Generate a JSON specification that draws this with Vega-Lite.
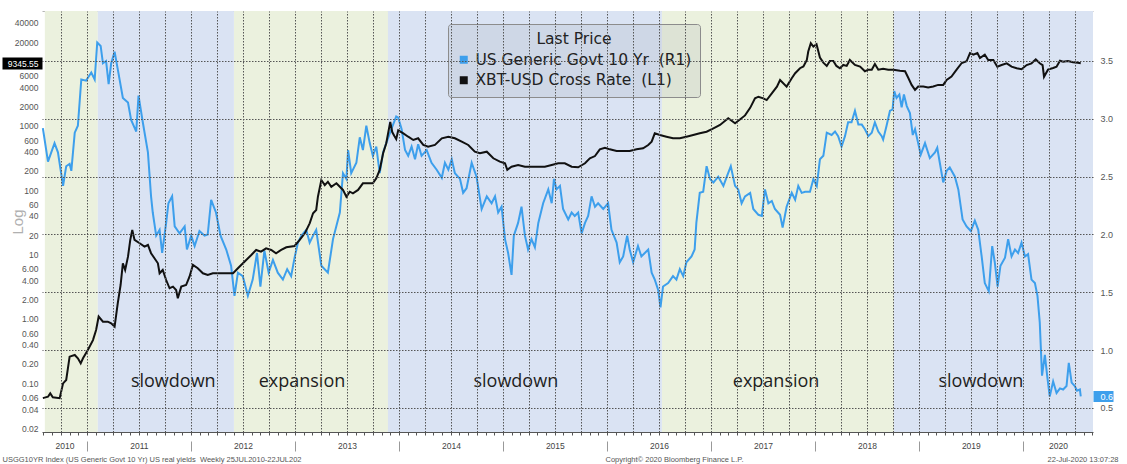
{
  "$schema": "https://vega.github.io/schema/vega-lite/v6.json",
  "width": 1051,
  "height": 421,
  "autosize": {"type": "none"},
  "padding": {"left": 42, "top": 11, "right": 34, "bottom": 32},
  "background": "white",
  "config": {"view": {"stroke": null}, "font": "Liberation Sans"},
  "datasets": {
    "bands": [
      {"start": "2010-08-06", "end": "2011-02-08", "phase": "expansion"},
      {"start": "2011-02-08", "end": "2012-05-31", "phase": "slowdown"},
      {"start": "2012-05-31", "end": "2013-11-23", "phase": "expansion"},
      {"start": "2013-11-23", "end": "2016-07-12", "phase": "slowdown"},
      {"start": "2016-07-12", "end": "2018-10-05", "phase": "expansion"},
      {"start": "2018-10-05", "end": "2020-09-03", "phase": "slowdown"}
    ],
    "notes": [
      {"date": "2011-10-31", "label": "slowdown"},
      {"date": "2013-01-25", "label": "expansion"},
      {"date": "2015-02-15", "label": "slowdown"},
      {"date": "2017-08-17", "label": "expansion"},
      {"date": "2019-08-06", "label": "slowdown"}
    ],
    "ust": [
      {"date":"2010-07-30","v":2.92},{"date":"2010-08-17","v":2.63},{"date":"2010-09-09","v":2.79},{"date":"2010-09-21","v":2.71},{"date":"2010-10-09","v":2.42},{"date":"2010-10-20","v":2.59},{"date":"2010-11-01","v":2.61},{"date":"2010-11-07","v":2.55},{"date":"2010-11-19","v":2.88},{"date":"2010-11-30","v":2.94},{"date":"2010-12-12","v":3.34},{"date":"2010-12-29","v":3.33},
      {"date":"2011-01-16","v":3.40},{"date":"2011-01-28","v":3.34},{"date":"2011-02-06","v":3.66},{"date":"2011-02-18","v":3.63},{"date":"2011-02-26","v":3.48},{"date":"2011-03-09","v":3.50},{"date":"2011-03-18","v":3.30},{"date":"2011-03-27","v":3.48},{"date":"2011-04-08","v":3.58},{"date":"2011-04-19","v":3.43},{"date":"2011-05-07","v":3.18},{"date":"2011-05-25","v":3.14},{"date":"2011-06-05","v":2.99},{"date":"2011-06-23","v":2.89},{"date":"2011-07-01","v":3.20},{"date":"2011-07-16","v":2.97},{"date":"2011-08-03","v":2.71},{"date":"2011-08-14","v":2.33},{"date":"2011-08-20","v":2.19},{"date":"2011-09-01","v":1.99},{"date":"2011-09-13","v":2.04},{"date":"2011-09-22","v":1.84},{"date":"2011-10-06","v":2.10},{"date":"2011-10-14","v":2.27},{"date":"2011-10-27","v":2.33},{"date":"2011-11-05","v":2.07},{"date":"2011-11-22","v":2.01},{"date":"2011-12-10","v":2.07},{"date":"2011-12-18","v":1.87},
      {"date":"2012-01-02","v":1.99},{"date":"2012-01-14","v":1.90},{"date":"2012-01-31","v":2.03},{"date":"2012-02-18","v":1.99},{"date":"2012-02-29","v":2.00},{"date":"2012-03-12","v":2.30},{"date":"2012-03-29","v":2.19},{"date":"2012-04-14","v":1.99},{"date":"2012-05-04","v":1.87},{"date":"2012-05-21","v":1.73},{"date":"2012-06-02","v":1.47},{"date":"2012-06-14","v":1.67},{"date":"2012-07-01","v":1.64},{"date":"2012-07-19","v":1.47},{"date":"2012-08-05","v":1.61},{"date":"2012-08-20","v":1.84},{"date":"2012-09-01","v":1.55},{"date":"2012-09-15","v":1.86},{"date":"2012-09-30","v":1.67},{"date":"2012-10-15","v":1.78},{"date":"2012-11-01","v":1.67},{"date":"2012-11-19","v":1.61},{"date":"2012-12-04","v":1.70},{"date":"2012-12-18","v":1.64},{"date":"2012-12-30","v":1.80},
      {"date":"2013-01-11","v":1.93},{"date":"2013-01-23","v":1.99},{"date":"2013-02-09","v":2.04},{"date":"2013-02-21","v":1.93},{"date":"2013-03-05","v":1.99},{"date":"2013-03-16","v":2.04},{"date":"2013-04-03","v":1.73},{"date":"2013-04-26","v":1.67},{"date":"2013-05-14","v":1.96},{"date":"2013-06-07","v":2.19},{"date":"2013-06-18","v":2.53},{"date":"2013-06-30","v":2.48},{"date":"2013-07-06","v":2.73},{"date":"2013-07-17","v":2.53},{"date":"2013-08-04","v":2.62},{"date":"2013-08-16","v":2.84},{"date":"2013-08-27","v":2.73},{"date":"2013-09-08","v":2.94},{"date":"2013-09-20","v":2.79},{"date":"2013-10-01","v":2.68},{"date":"2013-10-13","v":2.76},{"date":"2013-10-25","v":2.53},{"date":"2013-11-06","v":2.71},{"date":"2013-11-17","v":2.79},{"date":"2013-12-05","v":2.91},{"date":"2013-12-22","v":3.02},{"date":"2013-12-29","v":3.01},
      {"date":"2014-01-10","v":2.91},{"date":"2014-01-22","v":2.73},{"date":"2014-02-02","v":2.68},{"date":"2014-02-14","v":2.76},{"date":"2014-02-26","v":2.65},{"date":"2014-03-09","v":2.78},{"date":"2014-03-21","v":2.68},{"date":"2014-04-08","v":2.73},{"date":"2014-04-25","v":2.62},{"date":"2014-05-13","v":2.56},{"date":"2014-05-31","v":2.49},{"date":"2014-06-11","v":2.62},{"date":"2014-06-23","v":2.56},{"date":"2014-07-05","v":2.65},{"date":"2014-07-16","v":2.53},{"date":"2014-08-03","v":2.48},{"date":"2014-08-14","v":2.36},{"date":"2014-08-26","v":2.40},{"date":"2014-09-13","v":2.62},{"date":"2014-09-30","v":2.50},{"date":"2014-10-18","v":2.22},{"date":"2014-11-05","v":2.33},{"date":"2014-11-22","v":2.27},{"date":"2014-12-04","v":2.33},{"date":"2014-12-15","v":2.19},{"date":"2014-12-27","v":2.24},
      {"date":"2015-01-08","v":1.96},{"date":"2015-01-19","v":1.84},{"date":"2015-01-31","v":1.65},{"date":"2015-02-08","v":1.99},{"date":"2015-02-23","v":2.10},{"date":"2015-03-07","v":2.24},{"date":"2015-03-19","v":1.99},{"date":"2015-03-30","v":1.87},{"date":"2015-04-11","v":1.96},{"date":"2015-04-23","v":1.89},{"date":"2015-05-05","v":2.10},{"date":"2015-05-22","v":2.27},{"date":"2015-06-09","v":2.39},{"date":"2015-06-21","v":2.27},{"date":"2015-06-29","v":2.48},{"date":"2015-07-08","v":2.39},{"date":"2015-07-20","v":2.42},{"date":"2015-07-31","v":2.22},{"date":"2015-08-18","v":2.13},{"date":"2015-08-30","v":2.19},{"date":"2015-09-10","v":2.16},{"date":"2015-09-22","v":2.19},{"date":"2015-10-04","v":2.01},{"date":"2015-10-16","v":2.10},{"date":"2015-10-27","v":2.16},{"date":"2015-11-08","v":2.33},{"date":"2015-11-20","v":2.24},{"date":"2015-12-01","v":2.27},{"date":"2015-12-19","v":2.22},
      {"date":"2016-01-05","v":2.27},{"date":"2016-01-17","v":2.04},{"date":"2016-02-04","v":1.93},{"date":"2016-02-15","v":1.76},{"date":"2016-02-27","v":1.81},{"date":"2016-03-12","v":1.99},{"date":"2016-03-21","v":1.87},{"date":"2016-04-02","v":1.76},{"date":"2016-04-19","v":1.90},{"date":"2016-05-01","v":1.81},{"date":"2016-05-13","v":1.84},{"date":"2016-05-25","v":1.87},{"date":"2016-06-06","v":1.67},{"date":"2016-06-17","v":1.61},{"date":"2016-06-29","v":1.52},{"date":"2016-07-07","v":1.37},{"date":"2016-07-16","v":1.55},{"date":"2016-08-03","v":1.58},{"date":"2016-08-20","v":1.64},{"date":"2016-09-01","v":1.61},{"date":"2016-09-13","v":1.70},{"date":"2016-09-25","v":1.64},{"date":"2016-10-06","v":1.76},{"date":"2016-10-24","v":1.81},{"date":"2016-11-04","v":1.87},{"date":"2016-11-10","v":2.10},{"date":"2016-11-22","v":2.36},{"date":"2016-12-04","v":2.37},{"date":"2016-12-16","v":2.59},{"date":"2016-12-28","v":2.48},
      {"date":"2017-01-09","v":2.45},{"date":"2017-01-26","v":2.50},{"date":"2017-02-13","v":2.42},{"date":"2017-02-25","v":2.50},{"date":"2017-03-11","v":2.59},{"date":"2017-03-26","v":2.42},{"date":"2017-04-06","v":2.39},{"date":"2017-04-18","v":2.27},{"date":"2017-04-30","v":2.33},{"date":"2017-05-18","v":2.36},{"date":"2017-05-29","v":2.22},{"date":"2017-06-16","v":2.17},{"date":"2017-06-28","v":2.16},{"date":"2017-07-09","v":2.39},{"date":"2017-07-21","v":2.27},{"date":"2017-08-02","v":2.29},{"date":"2017-08-13","v":2.22},{"date":"2017-08-31","v":2.17},{"date":"2017-09-09","v":2.06},{"date":"2017-09-23","v":2.24},{"date":"2017-10-11","v":2.36},{"date":"2017-10-23","v":2.30},{"date":"2017-11-03","v":2.42},{"date":"2017-11-15","v":2.36},{"date":"2017-11-27","v":2.37},{"date":"2017-12-14","v":2.37},{"date":"2017-12-26","v":2.48},
      {"date":"2018-01-07","v":2.42},{"date":"2018-01-18","v":2.65},{"date":"2018-01-30","v":2.68},{"date":"2018-02-11","v":2.88},{"date":"2018-02-28","v":2.86},{"date":"2018-03-12","v":2.89},{"date":"2018-03-23","v":2.85},{"date":"2018-04-04","v":2.76},{"date":"2018-04-16","v":2.85},{"date":"2018-04-27","v":2.97},{"date":"2018-05-09","v":2.97},{"date":"2018-05-21","v":3.07},{"date":"2018-06-02","v":2.95},{"date":"2018-06-14","v":2.95},{"date":"2018-06-25","v":2.91},{"date":"2018-07-07","v":2.85},{"date":"2018-07-19","v":2.88},{"date":"2018-07-30","v":2.97},{"date":"2018-08-11","v":2.89},{"date":"2018-08-23","v":2.85},{"date":"2018-08-28","v":2.82},{"date":"2018-09-09","v":2.94},{"date":"2018-09-21","v":3.07},{"date":"2018-09-30","v":3.08},{"date":"2018-10-06","v":3.24},{"date":"2018-10-14","v":3.18},{"date":"2018-10-24","v":3.21},{"date":"2018-11-01","v":3.10},{"date":"2018-11-09","v":3.21},{"date":"2018-11-19","v":3.11},{"date":"2018-11-30","v":3.05},{"date":"2018-12-10","v":2.86},{"date":"2018-12-18","v":2.91},{"date":"2018-12-29","v":2.79},
      {"date":"2019-01-07","v":2.69},{"date":"2019-01-22","v":2.79},{"date":"2019-02-08","v":2.66},{"date":"2019-02-26","v":2.71},{"date":"2019-03-06","v":2.75},{"date":"2019-03-15","v":2.62},{"date":"2019-03-27","v":2.45},{"date":"2019-04-08","v":2.55},{"date":"2019-04-19","v":2.58},{"date":"2019-05-07","v":2.50},{"date":"2019-05-19","v":2.39},{"date":"2019-06-03","v":2.13},{"date":"2019-06-17","v":2.07},{"date":"2019-07-02","v":2.03},{"date":"2019-07-16","v":2.12},{"date":"2019-07-28","v":2.04},{"date":"2019-08-09","v":1.81},{"date":"2019-08-20","v":1.58},{"date":"2019-09-03","v":1.51},{"date":"2019-09-15","v":1.90},{"date":"2019-09-24","v":1.76},{"date":"2019-10-04","v":1.55},{"date":"2019-10-14","v":1.73},{"date":"2019-10-30","v":1.80},{"date":"2019-11-10","v":1.96},{"date":"2019-11-22","v":1.81},{"date":"2019-12-04","v":1.87},{"date":"2019-12-15","v":1.84},{"date":"2019-12-27","v":1.93},
      {"date":"2020-01-08","v":1.81},{"date":"2020-01-19","v":1.83},{"date":"2020-01-31","v":1.61},{"date":"2020-02-12","v":1.58},{"date":"2020-02-21","v":1.47},{"date":"2020-02-29","v":1.24},{"date":"2020-03-08","v":0.78},{"date":"2020-03-18","v":0.96},{"date":"2020-03-26","v":0.78},{"date":"2020-04-04","v":0.60},{"date":"2020-04-16","v":0.73},{"date":"2020-04-28","v":0.63},{"date":"2020-05-10","v":0.67},{"date":"2020-05-21","v":0.66},{"date":"2020-06-02","v":0.69},{"date":"2020-06-10","v":0.89},{"date":"2020-06-20","v":0.72},{"date":"2020-07-01","v":0.69},{"date":"2020-07-09","v":0.65},{"date":"2020-07-19","v":0.66},{"date":"2020-07-22","v":0.60}
    ],
    "xbt": [
      {"date":"2010-07-30","v":0.059},{"date":"2010-08-17","v":0.062},{"date":"2010-08-25","v":0.070},{"date":"2010-09-03","v":0.061},{"date":"2010-09-27","v":0.059},{"date":"2010-10-09","v":0.100},{"date":"2010-10-20","v":0.113},{"date":"2010-11-01","v":0.26},{"date":"2010-11-19","v":0.276},{"date":"2010-11-30","v":0.245},{"date":"2010-12-10","v":0.205},{"date":"2010-12-18","v":0.245},
      {"date":"2011-01-04","v":0.33},{"date":"2011-01-22","v":0.47},{"date":"2011-02-02","v":0.675},{"date":"2011-02-11","v":1.09},{"date":"2011-02-26","v":0.91},{"date":"2011-03-15","v":0.91},{"date":"2011-03-27","v":0.857},{"date":"2011-04-08","v":0.76},{"date":"2011-04-19","v":1.75},{"date":"2011-04-29","v":3.37},{"date":"2011-05-07","v":7.33},{"date":"2011-05-15","v":5.77},{"date":"2011-05-25","v":9.28},{"date":"2011-06-02","v":16.9},{"date":"2011-06-09","v":24.1},{"date":"2011-06-17","v":16.9},{"date":"2011-07-05","v":15.0},{"date":"2011-07-22","v":13.3},{"date":"2011-08-03","v":14.1},{"date":"2011-08-14","v":10.5},{"date":"2011-08-26","v":8.76},{"date":"2011-09-07","v":7.33},{"date":"2011-09-13","v":5.13},{"date":"2011-09-24","v":5.77},{"date":"2011-10-06","v":4.03},{"date":"2011-10-18","v":3.00},{"date":"2011-10-30","v":3.18},{"date":"2011-11-10","v":2.82},{"date":"2011-11-16","v":2.10},{"date":"2011-11-28","v":3.18},{"date":"2011-12-15","v":3.37},{"date":"2011-12-27","v":4.54},
      {"date":"2012-01-08","v":6.90},{"date":"2012-01-25","v":6.13},{"date":"2012-02-12","v":5.13},{"date":"2012-02-29","v":4.82},{"date":"2012-03-18","v":5.13},{"date":"2012-04-10","v":5.13},{"date":"2012-05-04","v":5.13},{"date":"2012-05-28","v":5.13},{"date":"2012-06-14","v":6.13},{"date":"2012-07-07","v":7.76},{"date":"2012-07-31","v":9.86},{"date":"2012-08-17","v":11.8},{"date":"2012-09-03","v":11.1},{"date":"2012-09-21","v":12.5},{"date":"2012-10-09","v":11.8},{"date":"2012-10-26","v":10.5},{"date":"2012-11-13","v":11.8},{"date":"2012-12-01","v":13.0},{"date":"2012-12-30","v":13.6},
      {"date":"2013-01-17","v":16.9},{"date":"2013-02-04","v":21.4},{"date":"2013-02-21","v":30.6},{"date":"2013-03-05","v":43.8},{"date":"2013-03-16","v":49.3},{"date":"2013-03-22","v":79.3},{"date":"2013-04-03","v":144},{"date":"2013-04-15","v":120},{"date":"2013-04-26","v":135},{"date":"2013-05-08","v":113},{"date":"2013-05-26","v":128},{"date":"2013-06-07","v":113},{"date":"2013-06-18","v":101},{"date":"2013-06-30","v":79.3},{"date":"2013-07-12","v":94.8},{"date":"2013-07-23","v":89.6},{"date":"2013-08-10","v":101},{"date":"2013-08-27","v":128},{"date":"2013-09-14","v":128},{"date":"2013-10-01","v":128},{"date":"2013-10-13","v":153},{"date":"2013-10-25","v":206},{"date":"2013-11-06","v":374},{"date":"2013-11-17","v":535},{"date":"2013-12-01","v":1150},{"date":"2013-12-08","v":800},{"date":"2013-12-15","v":700},{"date":"2013-12-22","v":620},{"date":"2013-12-29","v":850},
      {"date":"2014-01-16","v":764},{"date":"2014-02-02","v":677},{"date":"2014-02-20","v":602},{"date":"2014-03-09","v":640},{"date":"2014-03-27","v":504},{"date":"2014-04-13","v":474},{"date":"2014-05-07","v":504},{"date":"2014-05-31","v":640},{"date":"2014-06-23","v":677},{"date":"2014-07-16","v":640},{"date":"2014-08-09","v":566},{"date":"2014-09-01","v":504},{"date":"2014-09-24","v":396},{"date":"2014-10-12","v":374},{"date":"2014-11-05","v":396},{"date":"2014-11-28","v":313},{"date":"2014-12-21","v":278},
      {"date":"2015-01-08","v":262},{"date":"2015-01-16","v":207},{"date":"2015-01-31","v":232},{"date":"2015-02-23","v":247},{"date":"2015-03-19","v":232},{"date":"2015-04-11","v":232},{"date":"2015-05-05","v":232},{"date":"2015-05-28","v":232},{"date":"2015-06-21","v":247},{"date":"2015-07-14","v":262},{"date":"2015-08-06","v":262},{"date":"2015-08-30","v":232},{"date":"2015-09-22","v":227},{"date":"2015-10-16","v":262},{"date":"2015-11-02","v":313},{"date":"2015-11-20","v":339},{"date":"2015-12-07","v":431},{"date":"2015-12-25","v":457},
      {"date":"2016-01-11","v":431},{"date":"2016-02-04","v":406},{"date":"2016-02-27","v":406},{"date":"2016-03-21","v":406},{"date":"2016-04-14","v":431},{"date":"2016-05-07","v":448},{"date":"2016-05-25","v":504},{"date":"2016-06-06","v":566},{"date":"2016-06-17","v":764},{"date":"2016-07-05","v":719},{"date":"2016-07-28","v":677},{"date":"2016-08-20","v":640},{"date":"2016-09-13","v":640},{"date":"2016-10-06","v":677},{"date":"2016-10-30","v":719},{"date":"2016-11-22","v":764},{"date":"2016-12-16","v":809},
      {"date":"2017-01-09","v":914},{"date":"2017-02-01","v":1029},{"date":"2017-03-02","v":1307},{"date":"2017-03-26","v":1093},{"date":"2017-04-12","v":1250},{"date":"2017-04-30","v":1450},{"date":"2017-05-18","v":1900},{"date":"2017-06-04","v":2670},{"date":"2017-06-16","v":2830},{"date":"2017-07-03","v":2670},{"date":"2017-07-15","v":2510},{"date":"2017-08-02","v":3190},{"date":"2017-08-20","v":4060},{"date":"2017-08-31","v":5130},{"date":"2017-09-23","v":4060},{"date":"2017-10-11","v":5480},{"date":"2017-10-23","v":6560},{"date":"2017-11-09","v":7840},{"date":"2017-11-21","v":8330},{"date":"2017-12-03","v":10550},{"date":"2017-12-08","v":14250},{"date":"2017-12-17","v":19180},{"date":"2017-12-26","v":17030},
      {"date":"2018-01-06","v":18500},{"date":"2018-01-18","v":11460},{"date":"2018-01-30","v":9580},{"date":"2018-02-11","v":8510},{"date":"2018-02-22","v":10180},{"date":"2018-03-06","v":10180},{"date":"2018-03-17","v":8510},{"date":"2018-03-29","v":7840},{"date":"2018-04-10","v":8810},{"date":"2018-04-22","v":8510},{"date":"2018-05-03","v":10550},{"date":"2018-05-21","v":8810},{"date":"2018-06-08","v":8330},{"date":"2018-06-25","v":7030},{"date":"2018-07-07","v":7450},{"date":"2018-07-19","v":7450},{"date":"2018-07-30","v":9120},{"date":"2018-08-11","v":7450},{"date":"2018-08-28","v":7710},{"date":"2018-09-15","v":7450},{"date":"2018-10-03","v":7450},{"date":"2018-10-26","v":7190},{"date":"2018-11-13","v":7030},{"date":"2018-11-25","v":5480},{"date":"2018-12-06","v":4320},{"date":"2018-12-18","v":3610},{"date":"2018-12-29","v":4070},
      {"date":"2019-01-16","v":4070},{"date":"2019-02-02","v":3930},{"date":"2019-02-20","v":4070},{"date":"2019-03-09","v":4320},{"date":"2019-03-27","v":4320},{"date":"2019-04-08","v":5160},{"date":"2019-04-25","v":5830},{"date":"2019-05-13","v":7450},{"date":"2019-05-31","v":9450},{"date":"2019-06-17","v":10040},{"date":"2019-06-29","v":13500},{"date":"2019-07-11","v":12700},{"date":"2019-07-25","v":13500},{"date":"2019-08-03","v":11270},{"date":"2019-08-20","v":12700},{"date":"2019-09-01","v":10510},{"date":"2019-09-19","v":10510},{"date":"2019-10-03","v":8280},{"date":"2019-10-18","v":8790},{"date":"2019-11-05","v":9340},{"date":"2019-11-22","v":8280},{"date":"2019-12-10","v":7820},{"date":"2019-12-27","v":7550},
      {"date":"2020-01-14","v":8790},{"date":"2020-01-31","v":9340},{"date":"2020-02-15","v":10790},{"date":"2020-02-29","v":9340},{"date":"2020-03-10","v":8790},{"date":"2020-03-15","v":5780},{"date":"2020-03-29","v":7450},{"date":"2020-04-16","v":7910},{"date":"2020-04-28","v":8280},{"date":"2020-05-10","v":10250},{"date":"2020-05-21","v":9890},{"date":"2020-06-07","v":10140},{"date":"2020-06-25","v":9680},{"date":"2020-07-12","v":9550},{"date":"2020-07-22","v":9345.55}
    ]
  },
  "layer": [
    {
      "data": {"name": "bands"},
      "transform": [{"filter": "datum.phase === 'expansion'"}],
      "mark": {"type": "rect", "fill": "#ebf1de"},
      "encoding": {
        "x": {
          "field": "start", "type": "temporal",
          "scale": {"domain": [{"year": 2010, "month": 7, "date": 27}, {"year": 2020, "month": 9, "date": 3}], "nice": false},
          "axis": {
            "orient": "bottom", "tickCount": {"interval": "month", "step": 1},
            "ticks": true, "tickSize": 3, "tickColor": "#555555",
            "domain": true, "domainColor": "#555555", "labels": false, "grid": false,
            "title": "USGG10YR Index (US Generic Govt 10 Yr) US real yields\u00a0 Weekly 25JUL2010-22JUL202",
            "titleX": -40, "titleY": 29, "titleAlign": "left", "titleAnchor": "start", "titleBaseline": "alphabetic",
            "titleFont": "Liberation Sans", "titleFontSize": 7.5, "titleFontWeight": "normal", "titleColor": "#555555"
          }
        },
        "x2": {"field": "end"}
      }
    },
    {
      "data": {"name": "bands"},
      "transform": [{"filter": "datum.phase === 'slowdown'"}],
      "mark": {"type": "rect", "fill": "#dae3f3"},
      "encoding": {
        "x": {
          "field": "start", "type": "temporal",
          "scale": {"domain": [{"year": 2010, "month": 7, "date": 27}, {"year": 2020, "month": 9, "date": 3}], "nice": false},
          "axis": {
            "orient": "bottom", "tickCount": {"interval": "month", "step": 3},
            "grid": true, "gridDash": [1.5, 1.5], "gridColor": "#555555", "gridWidth": 1,
            "ticks": false, "labels": false, "domain": false, "title": null, "zindex": 1
          }
        },
        "x2": {"field": "end"}
      }
    },
    {
      "data": {"name": "ust"},
      "mark": {"type": "line", "strokeWidth": 2},
      "encoding": {
        "x": {
          "field": "date", "type": "temporal",
          "scale": {"domain": [{"year": 2010, "month": 7, "date": 27}, {"year": 2020, "month": 9, "date": 3}], "nice": false},
          "axis": {
            "orient": "bottom", "offset": 9,
            "values": [{"year": 2011}, {"year": 2012}, {"year": 2013}, {"year": 2014}, {"year": 2015}, {"year": 2016}, {"year": 2017}, {"year": 2018}, {"year": 2019}, {"year": 2020}],
            "ticks": true, "tickSize": 10, "tickColor": "#999999", "domain": false, "labels": false, "grid": false,
            "title": "Copyright\u00a9 2020 Bloomberg Finance L.P.",
            "titleX": 563, "titleY": 20, "titleAlign": "left", "titleAnchor": "start", "titleBaseline": "alphabetic",
            "titleFont": "Liberation Sans", "titleFontSize": 7.5, "titleFontWeight": "normal", "titleColor": "#555555"
          }
        },
        "y": {
          "field": "v", "type": "quantitative",
          "scale": {"domain": [0.2925, 3.932], "nice": false, "zero": false},
          "axis": {
            "orient": "right", "values": [0.5, 0.6, 1, 1.5, 2, 2.5, 3, 3.5],
            "labelExpr": "format(datum.value, '.1f')",
            "grid": true,
            "gridColor": {"condition": {"test": "abs(datum.value - 0.6) < 0.01", "value": "transparent"}, "value": "#555555"},
            "gridDash": [1.5, 1.5], "gridWidth": 1,
            "domain": false, "ticks": true, "tickSize": 20,
            "tickColor": {"condition": {"test": "abs(datum.value - 0.6) < 0.01", "value": "#3d9fec"}, "value": "transparent"},
            "tickWidth": {"condition": {"test": "abs(datum.value - 0.6) < 0.01", "value": 11}, "value": 1},
            "labelPadding": -13,
            "labelColor": {"condition": {"test": "abs(datum.value - 0.6) < 0.01", "value": "#ffffff"}, "value": "#555555"},
            "labelFont": "Liberation Sans", "labelFontSize": 9, "labelOverlap": false, "labelBound": false,
            "title": null, "zindex": 1
          }
        },
        "color": {
          "datum": "US Generic Govt 10 Yr\u00a0 (R1)", "type": "nominal",
          "scale": {"domain": ["US Generic Govt 10 Yr\u00a0 (R1)", "XBT-USD Cross Rate\u00a0 (L1)"], "range": ["#3d9fec", "#111111"]},
          "legend": {
            "orient": "none", "legendX": 406, "legendY": 13,
            "title": "Last Price", "titleAnchor": "middle", "titleFont": "DejaVu Sans", "titleFontSize": 15.5,
            "titleFontWeight": "normal", "titleColor": "#222222", "titlePadding": 4.5,
            "labelFont": "DejaVu Sans", "labelFontSize": 15.5, "labelColor": "#222222", "labelLimit": 400, "labelOffset": 4,
            "symbolType": "square", "symbolSize": 64, "symbolStrokeWidth": 0,
            "rowPadding": 3.5, "padding": 8,
            "fillColor": "rgba(140,145,160,0.15)", "strokeColor": "#8c8c8c", "cornerRadius": 3,
            "encode": {"symbols": {"update": {"fill": {"scale": "color", "field": "value"}, "fillOpacity": {"value": 1}}}}
          }
        }
      }
    },
    {
      "data": {"name": "xbt"},
      "mark": {"type": "line", "strokeWidth": 2},
      "encoding": {
        "x": {
          "field": "date", "type": "temporal",
          "scale": {"domain": [{"year": 2010, "month": 7, "date": 27}, {"year": 2020, "month": 9, "date": 3}], "nice": false},
          "axis": {
            "orient": "bottom",
            "values": [{"year": 2010, "month": 10, "date": 14}, {"year": 2011, "month": 7, "date": 2}, {"year": 2012, "month": 7, "date": 2}, {"year": 2013, "month": 7, "date": 2}, {"year": 2014, "month": 7, "date": 2}, {"year": 2015, "month": 7, "date": 2}, {"year": 2016, "month": 7, "date": 2}, {"year": 2017, "month": 7, "date": 2}, {"year": 2018, "month": 7, "date": 2}, {"year": 2019, "month": 7, "date": 2}, {"year": 2020, "month": 5, "date": 3}],
            "format": "%Y", "ticks": false, "domain": false, "grid": false,
            "labelPadding": 9, "labelFont": "Liberation Sans", "labelFontSize": 8.5, "labelColor": "#444444",
            "labelFlush": false, "labelOverlap": false,
            "title": "22-Jul-2020 13:07:28",
            "titleX": 1076, "titleY": 29, "titleAlign": "right", "titleAnchor": "end", "titleBaseline": "alphabetic",
            "titleFont": "Liberation Sans", "titleFontSize": 7.5, "titleFontWeight": "normal", "titleColor": "#555555"
          }
        },
        "y": {
          "field": "v", "type": "quantitative",
          "scale": {"type": "log", "domain": [0.01758, 60650], "nice": false},
          "axis": {
            "orient": "left",
            "values": [40000, 20000, 9345.55, 6000, 4000, 2000, 1000, 600, 400, 200, 100, 60, 40, 20, 10, 6, 4, 2, 1, 0.6, 0.4, 0.2, 0.1, 0.06, 0.04, 0.02],
            "labelExpr": "abs(datum.value - 9345.55) < 1 ? '9345.55' : (datum.value >= 10 ? format(datum.value, 'd') : format(datum.value, '.2f'))",
            "domain": false, "grid": false, "ticks": true, "tickSize": 40,
            "tickColor": {"condition": {"test": "abs(datum.value - 9345.55) < 1", "value": "#000000"}, "value": "transparent"},
            "tickWidth": {"condition": {"test": "abs(datum.value - 9345.55) < 1", "value": 12}, "value": 1},
            "labelPadding": -36,
            "labelColor": {"condition": {"test": "abs(datum.value - 9345.55) < 1", "value": "#ffffff"}, "value": "#555555"},
            "labelFont": "Liberation Sans", "labelFontSize": 8.5, "labelOverlap": false, "labelBound": false,
            "title": "Log", "titleX": -25, "titleY": 210.5, "titleAngle": 270, "titleAlign": "center", "titleBaseline": "middle",
            "titleColor": "#b0b0b0", "titleFont": "Liberation Sans", "titleFontSize": 15, "titleFontWeight": "normal",
            "zindex": 1
          }
        },
        "color": {"datum": "XBT-USD Cross Rate\u00a0 (L1)", "type": "nominal"}
      }
    },
    {
      "data": {"name": "notes"},
      "mark": {"type": "text", "font": "Open Sans", "fontSize": 18, "color": "#1e1e1e", "align": "center", "baseline": "middle"},
      "encoding": {
        "x": {
          "field": "date", "type": "temporal",
          "scale": {"domain": [{"year": 2010, "month": 7, "date": 27}, {"year": 2020, "month": 9, "date": 3}], "nice": false},
          "axis": {"orient": "top", "domain": true, "domainColor": "#b5b5b5", "ticks": false, "labels": false, "grid": false, "title": null}
        },
        "y": {"datum": 0.725, "type": "quantitative", "scale": {"domain": [0.2925, 3.932], "nice": false, "zero": false}, "axis": null},
        "text": {"field": "label", "type": "nominal"}
      }
    }
  ],
  "resolve": {"scale": {"y": "independent"}, "axis": {"x": "independent", "y": "independent"}}
}
